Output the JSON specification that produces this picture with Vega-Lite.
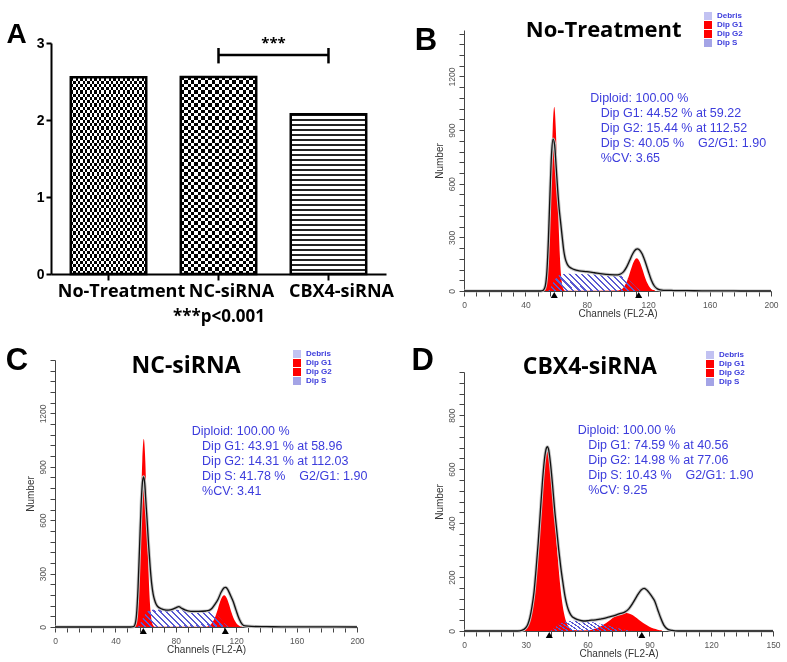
{
"$schema": "https://vega.github.io/schema/vega-lite/v6.json",
"background": "white",
"padding": {"left": 5, "top": 12, "right": 0, "bottom": 0},
"columns": 2,
"spacing": {"row": 69, "column": 78},
"bounds": "flush",
"align": "each",
"resolve": {"scale": {"color": "independent"}, "legend": {"color": "independent"}},
"datasets": {
"A": [{"group":"No-Treatment","value":2.555},{"group":"NC-siRNA","value":2.557},{"group":"CBX4-siRNA","value":2.074}],
"B": [
{"s":"Dip G1","ch":51.8,"n":2},{"s":"Dip G1","ch":52.8,"n":11},{"s":"Dip G1","ch":53.8,"n":45},{"s":"Dip G1","ch":54.8,"n":139},{"s":"Dip G1","ch":55.8,"n":334},{"s":"Dip G1","ch":56.8,"n":625},{"s":"Dip G1","ch":57.8,"n":909},{"s":"Dip G1","ch":58.8,"n":1030},{"s":"Dip G1","ch":59.8,"n":909},{"s":"Dip G1","ch":60.8,"n":625},{"s":"Dip G1","ch":61.8,"n":334},{"s":"Dip G1","ch":62.8,"n":139},{"s":"Dip G1","ch":63.8,"n":45},{"s":"Dip G1","ch":64.8,"n":11},{"s":"Dip G1","ch":65.8,"n":2},
{"s":"Dip G2","ch":100.5,"n":3},{"s":"Dip G2","ch":101.5,"n":5},{"s":"Dip G2","ch":102.5,"n":9},{"s":"Dip G2","ch":103.5,"n":16},{"s":"Dip G2","ch":104.5,"n":27},{"s":"Dip G2","ch":105.5,"n":43},{"s":"Dip G2","ch":106.5,"n":63},{"s":"Dip G2","ch":107.5,"n":87},{"s":"Dip G2","ch":108.5,"n":114},{"s":"Dip G2","ch":109.5,"n":140},{"s":"Dip G2","ch":110.5,"n":162},{"s":"Dip G2","ch":111.5,"n":178},{"s":"Dip G2","ch":112.5,"n":183},{"s":"Dip G2","ch":113.5,"n":178},{"s":"Dip G2","ch":114.5,"n":162},{"s":"Dip G2","ch":115.5,"n":140},{"s":"Dip G2","ch":116.5,"n":114},{"s":"Dip G2","ch":117.5,"n":87},{"s":"Dip G2","ch":118.5,"n":63},{"s":"Dip G2","ch":119.5,"n":43},{"s":"Dip G2","ch":120.5,"n":27},{"s":"Dip G2","ch":121.5,"n":16},{"s":"Dip G2","ch":122.5,"n":9},{"s":"Dip G2","ch":123.5,"n":5},{"s":"Dip G2","ch":124.5,"n":3},
{"s":"Dip S","ch":55,"n":0},{"s":"Dip S","ch":57,"n":30},{"s":"Dip S","ch":59,"n":60},{"s":"Dip S","ch":61,"n":82},{"s":"Dip S","ch":63,"n":92},{"s":"Dip S","ch":66,"n":96},{"s":"Dip S","ch":70,"n":96},{"s":"Dip S","ch":80,"n":94},{"s":"Dip S","ch":90,"n":92},{"s":"Dip S","ch":100,"n":90},{"s":"Dip S","ch":103,"n":86},{"s":"Dip S","ch":106,"n":72},{"s":"Dip S","ch":108,"n":58},{"s":"Dip S","ch":110,"n":40},{"s":"Dip S","ch":112,"n":22},{"s":"Dip S","ch":114,"n":8},{"s":"Dip S","ch":115,"n":0},
{"s":"raw","ch":0,"n":0},{"s":"raw","ch":40,"n":0},{"s":"raw","ch":50,"n":0},{"s":"raw","ch":51,"n":2},{"s":"raw","ch":52,"n":8},{"s":"raw","ch":53,"n":30},{"s":"raw","ch":54,"n":110},{"s":"raw","ch":55,"n":290},{"s":"raw","ch":56,"n":540},{"s":"raw","ch":57,"n":760},{"s":"raw","ch":58,"n":850},{"s":"raw","ch":59,"n":820},{"s":"raw","ch":60,"n":700},{"s":"raw","ch":61,"n":570},{"s":"raw","ch":62,"n":460},{"s":"raw","ch":63,"n":380},{"s":"raw","ch":64,"n":300},{"s":"raw","ch":65,"n":225},{"s":"raw","ch":66,"n":180},{"s":"raw","ch":67,"n":155},{"s":"raw","ch":68,"n":140},{"s":"raw","ch":70,"n":127},{"s":"raw","ch":72,"n":119},{"s":"raw","ch":75,"n":113},{"s":"raw","ch":80,"n":108},{"s":"raw","ch":85,"n":102},{"s":"raw","ch":90,"n":96},{"s":"raw","ch":95,"n":92},{"s":"raw","ch":100,"n":90},{"s":"raw","ch":102,"n":95},{"s":"raw","ch":104,"n":108},{"s":"raw","ch":106,"n":135},{"s":"raw","ch":108,"n":172},{"s":"raw","ch":110,"n":210},{"s":"raw","ch":112,"n":233},{"s":"raw","ch":113,"n":236},{"s":"raw","ch":114,"n":232},{"s":"raw","ch":116,"n":208},{"s":"raw","ch":118,"n":165},{"s":"raw","ch":120,"n":112},{"s":"raw","ch":122,"n":62},{"s":"raw","ch":124,"n":28},{"s":"raw","ch":126,"n":12},{"s":"raw","ch":128,"n":6},{"s":"raw","ch":130,"n":4},{"s":"raw","ch":135,"n":3},{"s":"raw","ch":140,"n":2},{"s":"raw","ch":150,"n":1.5},{"s":"raw","ch":160,"n":1},{"s":"raw","ch":170,"n":0.5},{"s":"raw","ch":180,"n":0},{"s":"raw","ch":200,"n":0},
{"s":"tri","ch":58.8,"n":0},{"s":"tri","ch":113.8,"n":0}
],
"C": [
{"s":"Dip G1","ch":51.8,"n":2},{"s":"Dip G1","ch":52.8,"n":12},{"s":"Dip G1","ch":53.8,"n":47},{"s":"Dip G1","ch":54.8,"n":143},{"s":"Dip G1","ch":55.8,"n":344},{"s":"Dip G1","ch":56.8,"n":642},{"s":"Dip G1","ch":57.8,"n":933},{"s":"Dip G1","ch":58.8,"n":1058},{"s":"Dip G1","ch":59.8,"n":933},{"s":"Dip G1","ch":60.8,"n":642},{"s":"Dip G1","ch":61.8,"n":344},{"s":"Dip G1","ch":62.8,"n":143},{"s":"Dip G1","ch":63.8,"n":47},{"s":"Dip G1","ch":64.8,"n":12},{"s":"Dip G1","ch":65.8,"n":2},
{"s":"Dip G2","ch":100,"n":2},{"s":"Dip G2","ch":101,"n":3},{"s":"Dip G2","ch":102,"n":7},{"s":"Dip G2","ch":103,"n":12},{"s":"Dip G2","ch":104,"n":22},{"s":"Dip G2","ch":105,"n":36},{"s":"Dip G2","ch":106,"n":55},{"s":"Dip G2","ch":107,"n":79},{"s":"Dip G2","ch":108,"n":106},{"s":"Dip G2","ch":109,"n":133},{"s":"Dip G2","ch":110,"n":157},{"s":"Dip G2","ch":111,"n":173},{"s":"Dip G2","ch":112,"n":179},{"s":"Dip G2","ch":113,"n":173},{"s":"Dip G2","ch":114,"n":157},{"s":"Dip G2","ch":115,"n":133},{"s":"Dip G2","ch":116,"n":106},{"s":"Dip G2","ch":117,"n":79},{"s":"Dip G2","ch":118,"n":55},{"s":"Dip G2","ch":119,"n":36},{"s":"Dip G2","ch":120,"n":22},{"s":"Dip G2","ch":121,"n":12},{"s":"Dip G2","ch":122,"n":7},{"s":"Dip G2","ch":123,"n":3},{"s":"Dip G2","ch":124,"n":2},
{"s":"Dip S","ch":55,"n":0},{"s":"Dip S","ch":57,"n":30},{"s":"Dip S","ch":59,"n":62},{"s":"Dip S","ch":61,"n":85},{"s":"Dip S","ch":63,"n":95},{"s":"Dip S","ch":66,"n":99},{"s":"Dip S","ch":70,"n":99},{"s":"Dip S","ch":80,"n":97},{"s":"Dip S","ch":90,"n":95},{"s":"Dip S","ch":100,"n":92},{"s":"Dip S","ch":103,"n":88},{"s":"Dip S","ch":106,"n":75},{"s":"Dip S","ch":108,"n":60},{"s":"Dip S","ch":110,"n":42},{"s":"Dip S","ch":112,"n":22},{"s":"Dip S","ch":114,"n":7},{"s":"Dip S","ch":115,"n":0},
{"s":"raw","ch":0,"n":0},{"s":"raw","ch":50,"n":0},{"s":"raw","ch":52,"n":2},{"s":"raw","ch":53,"n":15},{"s":"raw","ch":54,"n":70},{"s":"raw","ch":55,"n":220},{"s":"raw","ch":56,"n":450},{"s":"raw","ch":57,"n":680},{"s":"raw","ch":58,"n":820},{"s":"raw","ch":58.7,"n":843},{"s":"raw","ch":59.5,"n":800},{"s":"raw","ch":60,"n":730},{"s":"raw","ch":61,"n":600},{"s":"raw","ch":62,"n":460},{"s":"raw","ch":63,"n":340},{"s":"raw","ch":64,"n":245},{"s":"raw","ch":65,"n":185},{"s":"raw","ch":66,"n":150},{"s":"raw","ch":67,"n":128},{"s":"raw","ch":68,"n":115},{"s":"raw","ch":70,"n":104},{"s":"raw","ch":72,"n":98},{"s":"raw","ch":75,"n":95},{"s":"raw","ch":78,"n":100},{"s":"raw","ch":80,"n":108},{"s":"raw","ch":82,"n":114},{"s":"raw","ch":84,"n":105},{"s":"raw","ch":86,"n":96},{"s":"raw","ch":90,"n":88},{"s":"raw","ch":95,"n":88},{"s":"raw","ch":100,"n":90},{"s":"raw","ch":102,"n":93},{"s":"raw","ch":104,"n":105},{"s":"raw","ch":106,"n":128},{"s":"raw","ch":108,"n":156},{"s":"raw","ch":110,"n":195},{"s":"raw","ch":112,"n":220},{"s":"raw","ch":113,"n":223},{"s":"raw","ch":114,"n":216},{"s":"raw","ch":116,"n":182},{"s":"raw","ch":118,"n":143},{"s":"raw","ch":120,"n":92},{"s":"raw","ch":122,"n":45},{"s":"raw","ch":124,"n":15},{"s":"raw","ch":126,"n":6},{"s":"raw","ch":130,"n":3},{"s":"raw","ch":140,"n":2},{"s":"raw","ch":150,"n":1},{"s":"raw","ch":170,"n":0.5},{"s":"raw","ch":200,"n":0},
{"s":"tri","ch":58.5,"n":0},{"s":"tri","ch":112.8,"n":0}
],
"D": [
{"s":"Dip G1","ch":28.5,"n":4},{"s":"Dip G1","ch":29.5,"n":9},{"s":"Dip G1","ch":30.5,"n":19},{"s":"Dip G1","ch":31.5,"n":37},{"s":"Dip G1","ch":32.5,"n":68},{"s":"Dip G1","ch":33.5,"n":116},{"s":"Dip G1","ch":34.5,"n":184},{"s":"Dip G1","ch":35.5,"n":273},{"s":"Dip G1","ch":36.5,"n":376},{"s":"Dip G1","ch":37.5,"n":482},{"s":"Dip G1","ch":38.5,"n":576},{"s":"Dip G1","ch":39.5,"n":641},{"s":"Dip G1","ch":40.5,"n":664},{"s":"Dip G1","ch":41.5,"n":641},{"s":"Dip G1","ch":42.5,"n":576},{"s":"Dip G1","ch":43.5,"n":482},{"s":"Dip G1","ch":44.5,"n":376},{"s":"Dip G1","ch":45.5,"n":273},{"s":"Dip G1","ch":46.5,"n":184},{"s":"Dip G1","ch":47.5,"n":116},{"s":"Dip G1","ch":48.5,"n":68},{"s":"Dip G1","ch":49.5,"n":37},{"s":"Dip G1","ch":50.5,"n":19},{"s":"Dip G1","ch":51.5,"n":9},{"s":"Dip G1","ch":52.5,"n":4},
{"s":"Dip G2","ch":60,"n":2.5},{"s":"Dip G2","ch":62,"n":5},{"s":"Dip G2","ch":64,"n":9},{"s":"Dip G2","ch":66,"n":16},{"s":"Dip G2","ch":68,"n":25},{"s":"Dip G2","ch":70,"n":35},{"s":"Dip G2","ch":72,"n":47},{"s":"Dip G2","ch":74,"n":58},{"s":"Dip G2","ch":76,"n":65},{"s":"Dip G2","ch":78,"n":68},{"s":"Dip G2","ch":80,"n":65},{"s":"Dip G2","ch":82,"n":58},{"s":"Dip G2","ch":84,"n":47},{"s":"Dip G2","ch":86,"n":35},{"s":"Dip G2","ch":88,"n":25},{"s":"Dip G2","ch":90,"n":16},{"s":"Dip G2","ch":92,"n":9},{"s":"Dip G2","ch":94,"n":5},{"s":"Dip G2","ch":96,"n":2.5},
{"s":"Dip S","ch":42,"n":0},{"s":"Dip S","ch":44,"n":12},{"s":"Dip S","ch":46,"n":24},{"s":"Dip S","ch":48,"n":32},{"s":"Dip S","ch":50,"n":36},{"s":"Dip S","ch":54,"n":38},{"s":"Dip S","ch":58,"n":37},{"s":"Dip S","ch":62,"n":33},{"s":"Dip S","ch":66,"n":27},{"s":"Dip S","ch":70,"n":20},{"s":"Dip S","ch":74,"n":12},{"s":"Dip S","ch":78,"n":5},{"s":"Dip S","ch":82,"n":0},
{"s":"raw","ch":0,"n":0},{"s":"raw","ch":26,"n":0},{"s":"raw","ch":28,"n":2},{"s":"raw","ch":30,"n":12},{"s":"raw","ch":31,"n":25},{"s":"raw","ch":32,"n":50},{"s":"raw","ch":33,"n":90},{"s":"raw","ch":34,"n":145},{"s":"raw","ch":35,"n":230},{"s":"raw","ch":36,"n":325},{"s":"raw","ch":37,"n":435},{"s":"raw","ch":38,"n":545},{"s":"raw","ch":39,"n":632},{"s":"raw","ch":40,"n":678},{"s":"raw","ch":40.5,"n":683},{"s":"raw","ch":41,"n":675},{"s":"raw","ch":42,"n":620},{"s":"raw","ch":43,"n":540},{"s":"raw","ch":44,"n":450},{"s":"raw","ch":45,"n":375},{"s":"raw","ch":46,"n":300},{"s":"raw","ch":47,"n":235},{"s":"raw","ch":48,"n":180},{"s":"raw","ch":49,"n":130},{"s":"raw","ch":50,"n":95},{"s":"raw","ch":51,"n":72},{"s":"raw","ch":52,"n":58},{"s":"raw","ch":54,"n":46},{"s":"raw","ch":56,"n":40},{"s":"raw","ch":58,"n":37},{"s":"raw","ch":60,"n":38},{"s":"raw","ch":62,"n":40},{"s":"raw","ch":64,"n":41},{"s":"raw","ch":66,"n":44},{"s":"raw","ch":68,"n":47},{"s":"raw","ch":70,"n":51},{"s":"raw","ch":72,"n":55},{"s":"raw","ch":74,"n":60},{"s":"raw","ch":76,"n":65},{"s":"raw","ch":78,"n":70},{"s":"raw","ch":80,"n":82},{"s":"raw","ch":82,"n":104},{"s":"raw","ch":84,"n":130},{"s":"raw","ch":86,"n":152},{"s":"raw","ch":87.5,"n":158},{"s":"raw","ch":89,"n":150},{"s":"raw","ch":91,"n":130},{"s":"raw","ch":92.5,"n":112},{"s":"raw","ch":94,"n":80},{"s":"raw","ch":95.5,"n":48},{"s":"raw","ch":97,"n":22},{"s":"raw","ch":99,"n":6},{"s":"raw","ch":101,"n":2},{"s":"raw","ch":104,"n":0},{"s":"raw","ch":150,"n":0},
{"s":"tri","ch":41.4,"n":0},{"s":"tri","ch":86.3,"n":0}
]
},
"concat": [
{
"width": 335, "height": 244,
"data": {"name": "A"},
"layer": [
{"transform": [{"filter": "datum.group === 'No-Treatment'"}],
 "mark": {"type": "bar", "opacity": 1, "fill": {"gradient":"linear","x1":0,"y1":0,"x2":1,"y2":0,"stops":[
{"offset":0,"color":"#000"},{"offset":0.03125,"color":"#000"},{"offset":0.03125,"color":"#fff"},{"offset":0.0625,"color":"#fff"},
{"offset":0.0625,"color":"#000"},{"offset":0.09375,"color":"#000"},{"offset":0.09375,"color":"#fff"},{"offset":0.125,"color":"#fff"},
{"offset":0.125,"color":"#000"},{"offset":0.15625,"color":"#000"},{"offset":0.15625,"color":"#fff"},{"offset":0.1875,"color":"#fff"},
{"offset":0.1875,"color":"#000"},{"offset":0.21875,"color":"#000"},{"offset":0.21875,"color":"#fff"},{"offset":0.25,"color":"#fff"},
{"offset":0.25,"color":"#000"},{"offset":0.28125,"color":"#000"},{"offset":0.28125,"color":"#fff"},{"offset":0.3125,"color":"#fff"},
{"offset":0.3125,"color":"#000"},{"offset":0.34375,"color":"#000"},{"offset":0.34375,"color":"#fff"},{"offset":0.375,"color":"#fff"},
{"offset":0.375,"color":"#000"},{"offset":0.40625,"color":"#000"},{"offset":0.40625,"color":"#fff"},{"offset":0.4375,"color":"#fff"},
{"offset":0.4375,"color":"#000"},{"offset":0.46875,"color":"#000"},{"offset":0.46875,"color":"#fff"},{"offset":0.5,"color":"#fff"},
{"offset":0.5,"color":"#000"},{"offset":0.53125,"color":"#000"},{"offset":0.53125,"color":"#fff"},{"offset":0.5625,"color":"#fff"},
{"offset":0.5625,"color":"#000"},{"offset":0.59375,"color":"#000"},{"offset":0.59375,"color":"#fff"},{"offset":0.625,"color":"#fff"},
{"offset":0.625,"color":"#000"},{"offset":0.65625,"color":"#000"},{"offset":0.65625,"color":"#fff"},{"offset":0.6875,"color":"#fff"},
{"offset":0.6875,"color":"#000"},{"offset":0.71875,"color":"#000"},{"offset":0.71875,"color":"#fff"},{"offset":0.75,"color":"#fff"},
{"offset":0.75,"color":"#000"},{"offset":0.78125,"color":"#000"},{"offset":0.78125,"color":"#fff"},{"offset":0.8125,"color":"#fff"},
{"offset":0.8125,"color":"#000"},{"offset":0.84375,"color":"#000"},{"offset":0.84375,"color":"#fff"},{"offset":0.875,"color":"#fff"},
{"offset":0.875,"color":"#000"},{"offset":0.90625,"color":"#000"},{"offset":0.90625,"color":"#fff"},{"offset":0.9375,"color":"#fff"},
{"offset":0.9375,"color":"#000"},{"offset":0.96875,"color":"#000"},{"offset":0.96875,"color":"#fff"},{"offset":1,"color":"#fff"}]}},
 "encoding": {
  "x": {"field": "group", "type": "nominal", "sort": null,
        "scale": {"domain": ["No-Treatment","NC-siRNA","CBX4-siRNA"], "paddingInner": 0.314, "paddingOuter": 0.18},
        "axis": {"title": "***p<0.001", "titleFont": "Open Sans", "titleFontSize": 17, "titleFontWeight": "bold", "titleColor": "#000", "titlePadding": 8,
                 "labelFont": "Open Sans", "labelFontSize": 18, "labelFontWeight": "bold", "labelColor": "#000", "labelAngle": 0, "labelOffset": 13, "labelPadding": 2,
                 "domainColor": "#000", "domainWidth": 2, "tickColor": "#000", "tickWidth": 2, "tickSize": 6}},
  "y": {"field": "value", "type": "quantitative",
        "scale": {"domain": [0, 3], "range": [244, 13], "nice": false},
        "axis": {"values": [0,1,2,3], "format": "d", "tickCount": 10, "title": "A", "titleAngle": 0, "titleX": -45, "titleY": 12, "titleAlign": "left", "titleBaseline": "alphabetic",
                 "titleFont": "Liberation Sans", "titleFontSize": 28, "titleFontWeight": "bold", "titleColor": "#000",
                 "labelFont": "Liberation Sans", "labelFontSize": 14, "labelFontWeight": "bold", "labelColor": "#000", "labelAngle": 0, "labelAlign": "right", "labelBaseline": "middle", "labelPadding": 2,
                 "domainColor": "#000", "domainWidth": 2, "tickColor": "#000", "tickWidth": 2, "tickSize": 5}}
 }},
{"transform": [{"filter": "datum.group === 'NC-siRNA'"}],
 "mark": {"type": "bar", "opacity": 1, "fill": {"gradient":"linear","x1":0,"y1":0,"x2":1,"y2":0,"stops":[
{"offset":0,"color":"#000"},{"offset":0.0455,"color":"#000"},{"offset":0.0455,"color":"#fff"},{"offset":0.0909,"color":"#fff"},
{"offset":0.0909,"color":"#000"},{"offset":0.1364,"color":"#000"},{"offset":0.1364,"color":"#fff"},{"offset":0.1818,"color":"#fff"},
{"offset":0.1818,"color":"#000"},{"offset":0.2273,"color":"#000"},{"offset":0.2273,"color":"#fff"},{"offset":0.2727,"color":"#fff"},
{"offset":0.2727,"color":"#000"},{"offset":0.3182,"color":"#000"},{"offset":0.3182,"color":"#fff"},{"offset":0.3636,"color":"#fff"},
{"offset":0.3636,"color":"#000"},{"offset":0.4091,"color":"#000"},{"offset":0.4091,"color":"#fff"},{"offset":0.4545,"color":"#fff"},
{"offset":0.4545,"color":"#000"},{"offset":0.5,"color":"#000"},{"offset":0.5,"color":"#fff"},{"offset":0.5455,"color":"#fff"},
{"offset":0.5455,"color":"#000"},{"offset":0.5909,"color":"#000"},{"offset":0.5909,"color":"#fff"},{"offset":0.6364,"color":"#fff"},
{"offset":0.6364,"color":"#000"},{"offset":0.6818,"color":"#000"},{"offset":0.6818,"color":"#fff"},{"offset":0.7273,"color":"#fff"},
{"offset":0.7273,"color":"#000"},{"offset":0.7727,"color":"#000"},{"offset":0.7727,"color":"#fff"},{"offset":0.8182,"color":"#fff"},
{"offset":0.8182,"color":"#000"},{"offset":0.8636,"color":"#000"},{"offset":0.8636,"color":"#fff"},{"offset":0.9091,"color":"#fff"},
{"offset":0.9091,"color":"#000"},{"offset":0.9545,"color":"#000"},{"offset":0.9545,"color":"#fff"},{"offset":1,"color":"#fff"}]}},
 "encoding": {"x": {"field": "group", "type": "nominal"}, "y": {"field": "value", "type": "quantitative"}}},
{"transform": [{"filter": "datum.group !== 'CBX4-siRNA'"}],
 "mark": {"type": "bar", "opacity": 1, "blend": "difference", "fill": {"gradient":"linear","x1":0,"y1":0,"x2":0,"y2":1,"stops":[
{"offset":0,"color":"#000"},{"offset":0.0167,"color":"#000"},{"offset":0.0167,"color":"#fff"},{"offset":0.0333,"color":"#fff"},
{"offset":0.0333,"color":"#000"},{"offset":0.05,"color":"#000"},{"offset":0.05,"color":"#fff"},{"offset":0.0667,"color":"#fff"},
{"offset":0.0667,"color":"#000"},{"offset":0.0833,"color":"#000"},{"offset":0.0833,"color":"#fff"},{"offset":0.1,"color":"#fff"},
{"offset":0.1,"color":"#000"},{"offset":0.1167,"color":"#000"},{"offset":0.1167,"color":"#fff"},{"offset":0.1333,"color":"#fff"},
{"offset":0.1333,"color":"#000"},{"offset":0.15,"color":"#000"},{"offset":0.15,"color":"#fff"},{"offset":0.1667,"color":"#fff"},
{"offset":0.1667,"color":"#000"},{"offset":0.1833,"color":"#000"},{"offset":0.1833,"color":"#fff"},{"offset":0.2,"color":"#fff"},
{"offset":0.2,"color":"#000"},{"offset":0.2167,"color":"#000"},{"offset":0.2167,"color":"#fff"},{"offset":0.2333,"color":"#fff"},
{"offset":0.2333,"color":"#000"},{"offset":0.25,"color":"#000"},{"offset":0.25,"color":"#fff"},{"offset":0.2667,"color":"#fff"},
{"offset":0.2667,"color":"#000"},{"offset":0.2833,"color":"#000"},{"offset":0.2833,"color":"#fff"},{"offset":0.3,"color":"#fff"},
{"offset":0.3,"color":"#000"},{"offset":0.3167,"color":"#000"},{"offset":0.3167,"color":"#fff"},{"offset":0.3333,"color":"#fff"},
{"offset":0.3333,"color":"#000"},{"offset":0.35,"color":"#000"},{"offset":0.35,"color":"#fff"},{"offset":0.3667,"color":"#fff"},
{"offset":0.3667,"color":"#000"},{"offset":0.3833,"color":"#000"},{"offset":0.3833,"color":"#fff"},{"offset":0.4,"color":"#fff"},
{"offset":0.4,"color":"#000"},{"offset":0.4167,"color":"#000"},{"offset":0.4167,"color":"#fff"},{"offset":0.4333,"color":"#fff"},
{"offset":0.4333,"color":"#000"},{"offset":0.45,"color":"#000"},{"offset":0.45,"color":"#fff"},{"offset":0.4667,"color":"#fff"},
{"offset":0.4667,"color":"#000"},{"offset":0.4833,"color":"#000"},{"offset":0.4833,"color":"#fff"},{"offset":0.5,"color":"#fff"},
{"offset":0.5,"color":"#000"},{"offset":0.5167,"color":"#000"},{"offset":0.5167,"color":"#fff"},{"offset":0.5333,"color":"#fff"},
{"offset":0.5333,"color":"#000"},{"offset":0.55,"color":"#000"},{"offset":0.55,"color":"#fff"},{"offset":0.5667,"color":"#fff"},
{"offset":0.5667,"color":"#000"},{"offset":0.5833,"color":"#000"},{"offset":0.5833,"color":"#fff"},{"offset":0.6,"color":"#fff"},
{"offset":0.6,"color":"#000"},{"offset":0.6167,"color":"#000"},{"offset":0.6167,"color":"#fff"},{"offset":0.6333,"color":"#fff"},
{"offset":0.6333,"color":"#000"},{"offset":0.65,"color":"#000"},{"offset":0.65,"color":"#fff"},{"offset":0.6667,"color":"#fff"},
{"offset":0.6667,"color":"#000"},{"offset":0.6833,"color":"#000"},{"offset":0.6833,"color":"#fff"},{"offset":0.7,"color":"#fff"},
{"offset":0.7,"color":"#000"},{"offset":0.7167,"color":"#000"},{"offset":0.7167,"color":"#fff"},{"offset":0.7333,"color":"#fff"},
{"offset":0.7333,"color":"#000"},{"offset":0.75,"color":"#000"},{"offset":0.75,"color":"#fff"},{"offset":0.7667,"color":"#fff"},
{"offset":0.7667,"color":"#000"},{"offset":0.7833,"color":"#000"},{"offset":0.7833,"color":"#fff"},{"offset":0.8,"color":"#fff"},
{"offset":0.8,"color":"#000"},{"offset":0.8167,"color":"#000"},{"offset":0.8167,"color":"#fff"},{"offset":0.8333,"color":"#fff"},
{"offset":0.8333,"color":"#000"},{"offset":0.85,"color":"#000"},{"offset":0.85,"color":"#fff"},{"offset":0.8667,"color":"#fff"},
{"offset":0.8667,"color":"#000"},{"offset":0.8833,"color":"#000"},{"offset":0.8833,"color":"#fff"},{"offset":0.9,"color":"#fff"},
{"offset":0.9,"color":"#000"},{"offset":0.9167,"color":"#000"},{"offset":0.9167,"color":"#fff"},{"offset":0.9333,"color":"#fff"},
{"offset":0.9333,"color":"#000"},{"offset":0.95,"color":"#000"},{"offset":0.95,"color":"#fff"},{"offset":0.9667,"color":"#fff"},
{"offset":0.9667,"color":"#000"},{"offset":0.9833,"color":"#000"},{"offset":0.9833,"color":"#fff"},{"offset":1,"color":"#fff"}]}},
 "encoding": {"x": {"field": "group", "type": "nominal"}, "y": {"field": "value", "type": "quantitative"}}},
{"transform": [{"filter": "datum.group === 'CBX4-siRNA'"}],
 "mark": {"type": "bar", "opacity": 1, "fill": {"gradient":"linear","x1":0,"y1":0,"x2":0,"y2":1,"stops":[
{"offset":0,"color":"#222"},{"offset":0.011,"color":"#222"},{"offset":0.011,"color":"#fff"},{"offset":0.03125,"color":"#fff"},
{"offset":0.03125,"color":"#222"},{"offset":0.04225,"color":"#222"},{"offset":0.04225,"color":"#fff"},{"offset":0.0625,"color":"#fff"},
{"offset":0.0625,"color":"#222"},{"offset":0.0735,"color":"#222"},{"offset":0.0735,"color":"#fff"},{"offset":0.09375,"color":"#fff"},
{"offset":0.09375,"color":"#222"},{"offset":0.10475,"color":"#222"},{"offset":0.10475,"color":"#fff"},{"offset":0.125,"color":"#fff"},
{"offset":0.125,"color":"#222"},{"offset":0.136,"color":"#222"},{"offset":0.136,"color":"#fff"},{"offset":0.15625,"color":"#fff"},
{"offset":0.15625,"color":"#222"},{"offset":0.16725,"color":"#222"},{"offset":0.16725,"color":"#fff"},{"offset":0.1875,"color":"#fff"},
{"offset":0.1875,"color":"#222"},{"offset":0.1985,"color":"#222"},{"offset":0.1985,"color":"#fff"},{"offset":0.21875,"color":"#fff"},
{"offset":0.21875,"color":"#222"},{"offset":0.22975,"color":"#222"},{"offset":0.22975,"color":"#fff"},{"offset":0.25,"color":"#fff"},
{"offset":0.25,"color":"#222"},{"offset":0.261,"color":"#222"},{"offset":0.261,"color":"#fff"},{"offset":0.28125,"color":"#fff"},
{"offset":0.28125,"color":"#222"},{"offset":0.29225,"color":"#222"},{"offset":0.29225,"color":"#fff"},{"offset":0.3125,"color":"#fff"},
{"offset":0.3125,"color":"#222"},{"offset":0.3235,"color":"#222"},{"offset":0.3235,"color":"#fff"},{"offset":0.34375,"color":"#fff"},
{"offset":0.34375,"color":"#222"},{"offset":0.35475,"color":"#222"},{"offset":0.35475,"color":"#fff"},{"offset":0.375,"color":"#fff"},
{"offset":0.375,"color":"#222"},{"offset":0.386,"color":"#222"},{"offset":0.386,"color":"#fff"},{"offset":0.40625,"color":"#fff"},
{"offset":0.40625,"color":"#222"},{"offset":0.41725,"color":"#222"},{"offset":0.41725,"color":"#fff"},{"offset":0.4375,"color":"#fff"},
{"offset":0.4375,"color":"#222"},{"offset":0.4485,"color":"#222"},{"offset":0.4485,"color":"#fff"},{"offset":0.46875,"color":"#fff"},
{"offset":0.46875,"color":"#222"},{"offset":0.47975,"color":"#222"},{"offset":0.47975,"color":"#fff"},{"offset":0.5,"color":"#fff"},
{"offset":0.5,"color":"#222"},{"offset":0.511,"color":"#222"},{"offset":0.511,"color":"#fff"},{"offset":0.53125,"color":"#fff"},
{"offset":0.53125,"color":"#222"},{"offset":0.54225,"color":"#222"},{"offset":0.54225,"color":"#fff"},{"offset":0.5625,"color":"#fff"},
{"offset":0.5625,"color":"#222"},{"offset":0.5735,"color":"#222"},{"offset":0.5735,"color":"#fff"},{"offset":0.59375,"color":"#fff"},
{"offset":0.59375,"color":"#222"},{"offset":0.60475,"color":"#222"},{"offset":0.60475,"color":"#fff"},{"offset":0.625,"color":"#fff"},
{"offset":0.625,"color":"#222"},{"offset":0.636,"color":"#222"},{"offset":0.636,"color":"#fff"},{"offset":0.65625,"color":"#fff"},
{"offset":0.65625,"color":"#222"},{"offset":0.66725,"color":"#222"},{"offset":0.66725,"color":"#fff"},{"offset":0.6875,"color":"#fff"},
{"offset":0.6875,"color":"#222"},{"offset":0.6985,"color":"#222"},{"offset":0.6985,"color":"#fff"},{"offset":0.71875,"color":"#fff"},
{"offset":0.71875,"color":"#222"},{"offset":0.72975,"color":"#222"},{"offset":0.72975,"color":"#fff"},{"offset":0.75,"color":"#fff"},
{"offset":0.75,"color":"#222"},{"offset":0.761,"color":"#222"},{"offset":0.761,"color":"#fff"},{"offset":0.78125,"color":"#fff"},
{"offset":0.78125,"color":"#222"},{"offset":0.79225,"color":"#222"},{"offset":0.79225,"color":"#fff"},{"offset":0.8125,"color":"#fff"},
{"offset":0.8125,"color":"#222"},{"offset":0.8235,"color":"#222"},{"offset":0.8235,"color":"#fff"},{"offset":0.84375,"color":"#fff"},
{"offset":0.84375,"color":"#222"},{"offset":0.85475,"color":"#222"},{"offset":0.85475,"color":"#fff"},{"offset":0.875,"color":"#fff"},
{"offset":0.875,"color":"#222"},{"offset":0.886,"color":"#222"},{"offset":0.886,"color":"#fff"},{"offset":0.90625,"color":"#fff"},
{"offset":0.90625,"color":"#222"},{"offset":0.91725,"color":"#222"},{"offset":0.91725,"color":"#fff"},{"offset":0.9375,"color":"#fff"},
{"offset":0.9375,"color":"#222"},{"offset":0.9485,"color":"#222"},{"offset":0.9485,"color":"#fff"},{"offset":0.96875,"color":"#fff"},
{"offset":0.96875,"color":"#222"},{"offset":0.97975,"color":"#222"},{"offset":0.97975,"color":"#fff"},{"offset":1,"color":"#fff"}]}},
 "encoding": {"x": {"field": "group", "type": "nominal"}, "y": {"field": "value", "type": "quantitative"}}},
{"mark": {"type": "bar", "fill": "transparent", "stroke": "#000", "strokeWidth": 2.5, "opacity": 1},
 "encoding": {"x": {"field": "group", "type": "nominal"}, "y": {"field": "value", "type": "quantitative"}}},
{"data": {"values": [{}]},
 "mark": {"type": "rule", "color": "#000", "strokeWidth": 2.5},
 "encoding": {"x": {"datum": "NC-siRNA"}, "x2": {"datum": "CBX4-siRNA"}, "y": {"datum": 2.845}}},
{"data": {"values": [{"group": "NC-siRNA"}, {"group": "CBX4-siRNA"}]},
 "mark": {"type": "rule", "color": "#000", "strokeWidth": 2.5},
 "encoding": {"x": {"field": "group", "type": "nominal"}, "y": {"datum": 2.735}, "y2": {"datum": 2.935}}},
{"data": {"values": [{}]},
 "mark": {"type": "text", "font": "Open Sans", "fontSize": 15, "fontWeight": "bold", "dx": 55, "align": "center", "baseline": "alphabetic", "color": "#000"},
 "encoding": {"x": {"datum": "NC-siRNA"}, "y": {"datum": 2.94}, "text": {"value": "***"}}}
]
},
{
"width": 307, "height": 261,
"data": {"name": "B"},
"layer": [
{"transform": [{"filter": "datum.s === 'Dip G1' || datum.s === 'Dip G2'"}],
 "mark": {"type": "area", "interpolate": "monotone", "opacity": 1},
 "encoding": {
  "x": {"field": "ch", "type": "quantitative", "scale": {"domain": [0, 200], "nice": false},
        "axis": {"title": "Channels (FL2-A)", "tickCount": 100, "format": "d", "values": [0,8,16,24,32,40,48,56,64,72,80,88,96,104,112,120,128,136,144,152,160,168,176,184,192,200], "labelExpr": "datum.value % 40 === 0 ? datum.label : ''"}},
  "y": {"field": "n", "type": "quantitative", "scale": {"domain": [0, 1460], "nice": false},
        "axis": {"title": "Number", "tickCount": 100, "format": "d", "values": [0,60,120,180,240,300,360,420,480,540,600,660,720,780,840,900,960,1020,1080,1140,1200,1260,1320,1380,1440], "labelExpr": "datum.value % 300 === 0 ? datum.label : ''"}},
  "color": {"field": "s", "type": "nominal",
            "scale": {"domain": ["Debris","Dip G1","Dip G2","Dip S"], "range": ["#c2c2f2","#ff0000","#ff0000","#a4a4e6"]},
            "legend": {"orient": "none", "legendX": 240, "legendY": -18, "title": null, "symbolType": "square", "symbolSize": 64, "symbolStrokeWidth": 0, "labelFont": "Liberation Sans", "labelFontSize": 8, "labelFontWeight": "bold", "labelColor": "#3c3cdc", "rowPadding": 1, "padding": 0, "labelOffset": 5}}
 }},
{"transform": [{"filter": "datum.s === 'Dip S'"}],
 "mark": {"type": "area", "interpolate": "monotone", "opacity": 1, "fill": {"gradient":"linear","x1":0,"y1":1,"x2":1.15,"y2":0.79,"stops":[
{"offset":0,"color":"#5a5ad2"},{"offset":0.02,"color":"#5a5ad2"},{"offset":0.02,"color":"rgba(90,90,210,0)"},{"offset":0.0556,"color":"rgba(90,90,210,0)"},
{"offset":0.0556,"color":"#5a5ad2"},{"offset":0.0756,"color":"#5a5ad2"},{"offset":0.0756,"color":"rgba(90,90,210,0)"},{"offset":0.1111,"color":"rgba(90,90,210,0)"},
{"offset":0.1111,"color":"#5a5ad2"},{"offset":0.1311,"color":"#5a5ad2"},{"offset":0.1311,"color":"rgba(90,90,210,0)"},{"offset":0.1667,"color":"rgba(90,90,210,0)"},
{"offset":0.1667,"color":"#5a5ad2"},{"offset":0.1867,"color":"#5a5ad2"},{"offset":0.1867,"color":"rgba(90,90,210,0)"},{"offset":0.2222,"color":"rgba(90,90,210,0)"},
{"offset":0.2222,"color":"#5a5ad2"},{"offset":0.2422,"color":"#5a5ad2"},{"offset":0.2422,"color":"rgba(90,90,210,0)"},{"offset":0.2778,"color":"rgba(90,90,210,0)"},
{"offset":0.2778,"color":"#5a5ad2"},{"offset":0.2978,"color":"#5a5ad2"},{"offset":0.2978,"color":"rgba(90,90,210,0)"},{"offset":0.3333,"color":"rgba(90,90,210,0)"},
{"offset":0.3333,"color":"#5a5ad2"},{"offset":0.3533,"color":"#5a5ad2"},{"offset":0.3533,"color":"rgba(90,90,210,0)"},{"offset":0.3889,"color":"rgba(90,90,210,0)"},
{"offset":0.3889,"color":"#5a5ad2"},{"offset":0.4089,"color":"#5a5ad2"},{"offset":0.4089,"color":"rgba(90,90,210,0)"},{"offset":0.4444,"color":"rgba(90,90,210,0)"},
{"offset":0.4444,"color":"#5a5ad2"},{"offset":0.4644,"color":"#5a5ad2"},{"offset":0.4644,"color":"rgba(90,90,210,0)"},{"offset":0.5,"color":"rgba(90,90,210,0)"},
{"offset":0.5,"color":"#5a5ad2"},{"offset":0.52,"color":"#5a5ad2"},{"offset":0.52,"color":"rgba(90,90,210,0)"},{"offset":0.5556,"color":"rgba(90,90,210,0)"},
{"offset":0.5556,"color":"#5a5ad2"},{"offset":0.5756,"color":"#5a5ad2"},{"offset":0.5756,"color":"rgba(90,90,210,0)"},{"offset":0.6111,"color":"rgba(90,90,210,0)"},
{"offset":0.6111,"color":"#5a5ad2"},{"offset":0.6311,"color":"#5a5ad2"},{"offset":0.6311,"color":"rgba(90,90,210,0)"},{"offset":0.6667,"color":"rgba(90,90,210,0)"},
{"offset":0.6667,"color":"#5a5ad2"},{"offset":0.6867,"color":"#5a5ad2"},{"offset":0.6867,"color":"rgba(90,90,210,0)"},{"offset":0.7222,"color":"rgba(90,90,210,0)"},
{"offset":0.7222,"color":"#5a5ad2"},{"offset":0.7422,"color":"#5a5ad2"},{"offset":0.7422,"color":"rgba(90,90,210,0)"},{"offset":0.7778,"color":"rgba(90,90,210,0)"},
{"offset":0.7778,"color":"#5a5ad2"},{"offset":0.7978,"color":"#5a5ad2"},{"offset":0.7978,"color":"rgba(90,90,210,0)"},{"offset":0.8333,"color":"rgba(90,90,210,0)"},
{"offset":0.8333,"color":"#5a5ad2"},{"offset":0.8533,"color":"#5a5ad2"},{"offset":0.8533,"color":"rgba(90,90,210,0)"},{"offset":0.8889,"color":"rgba(90,90,210,0)"},
{"offset":0.8889,"color":"#5a5ad2"},{"offset":0.9089,"color":"#5a5ad2"},{"offset":0.9089,"color":"rgba(90,90,210,0)"},{"offset":0.9444,"color":"rgba(90,90,210,0)"},
{"offset":0.9444,"color":"#5a5ad2"},{"offset":0.9644,"color":"#5a5ad2"},{"offset":0.9644,"color":"rgba(90,90,210,0)"},{"offset":1,"color":"rgba(90,90,210,0)"}]}},
 "encoding": {"x": {"field": "ch", "type": "quantitative"}, "y": {"field": "n", "type": "quantitative"}}},
{"transform": [{"filter": "datum.s === 'raw'"}],
 "mark": {"type": "line", "interpolate": "monotone", "color": "#c4c4c4", "strokeWidth": 3.2},
 "encoding": {"x": {"field": "ch", "type": "quantitative"}, "y": {"field": "n", "type": "quantitative"}}},
{"transform": [{"filter": "datum.s === 'raw'"}],
 "mark": {"type": "line", "interpolate": "monotone", "color": "#111", "strokeWidth": 1.3},
 "encoding": {"x": {"field": "ch", "type": "quantitative"}, "y": {"field": "n", "type": "quantitative"}}},
{"transform": [{"filter": "datum.s === 'tri'"}],
 "mark": {"type": "point", "shape": "triangle-up", "filled": true, "color": "#000", "opacity": 1, "size": 50, "yOffset": 4},
 "encoding": {"x": {"field": "ch", "type": "quantitative"}, "y": {"field": "n", "type": "quantitative"}}},
{"data": {"values": [{}]},
 "mark": {"type": "text", "font": "Liberation Sans", "fontSize": 31, "fontWeight": "bold", "align": "center", "baseline": "alphabetic", "color": "#000"},
 "encoding": {"x": {"datum": -24.8}, "y": {"datum": 1348}, "text": {"value": "B"}}},
{"data": {"values": [{}]},
 "mark": {"type": "text", "font": "Open Sans", "fontSize": 22, "fontWeight": "bold", "align": "center", "baseline": "alphabetic", "color": "#000"},
 "encoding": {"x": {"datum": 91}, "y": {"datum": 1419}, "text": {"value": "No-Treatment"}}},
{"data": {"values": [{}]},
 "mark": {"type": "text", "font": "Liberation Sans", "fontSize": 12.5, "align": "left", "baseline": "alphabetic", "color": "#3c3cdc", "lineHeight": 15, "lineBreak": "\n"},
 "encoding": {"x": {"datum": 82.3}, "y": {"datum": 1059}, "text": {"value": "Diploid: 100.00 %\n\u200b\u00a0\u00a0\u00a0Dip G1: 44.52 % at 59.22\n\u200b\u00a0\u00a0\u00a0Dip G2: 15.44 % at 112.52\n\u200b\u00a0\u00a0\u00a0Dip S: 40.05 %\u00a0\u00a0\u00a0\u00a0G2/G1: 1.90\n\u200b\u00a0\u00a0\u00a0%CV: 3.65"}}}
]
},
{
"width": 306, "height": 267,
"data": {"name": "C"},
"layer": [
{"transform": [{"filter": "datum.s === 'Dip G1' || datum.s === 'Dip G2'"}],
 "mark": {"type": "area", "interpolate": "monotone", "opacity": 1},
 "encoding": {
  "x": {"field": "ch", "type": "quantitative", "scale": {"domain": [0, 200], "nice": false, "range": [4, 306]},
        "axis": {"title": "Channels (FL2-A)", "tickCount": 100, "format": "d", "values": [0,8,16,24,32,40,48,56,64,72,80,88,96,104,112,120,128,136,144,152,160,168,176,184,192,200], "labelExpr": "datum.value % 40 === 0 ? datum.label : ''"}},
  "y": {"field": "n", "type": "quantitative", "scale": {"domain": [0, 1500], "nice": false},
        "axis": {"title": "Number", "offset": -4, "tickCount": 100, "format": "d", "values": [0,60,120,180,240,300,360,420,480,540,600,660,720,780,840,900,960,1020,1080,1140,1200,1260,1320,1380,1440,1500], "labelExpr": "datum.value % 300 === 0 && datum.value < 1500 ? datum.label : ''"}},
  "color": {"field": "s", "type": "nominal",
            "scale": {"domain": ["Debris","Dip G1","Dip G2","Dip S"], "range": ["#c2c2f2","#ff0000","#ff0000","#a4a4e6"]},
            "legend": {"orient": "none", "legendX": 242, "legendY": -10, "title": null, "symbolType": "square", "symbolSize": 64, "symbolStrokeWidth": 0, "labelFont": "Liberation Sans", "labelFontSize": 8, "labelFontWeight": "bold", "labelColor": "#3c3cdc", "rowPadding": 1, "padding": 0, "labelOffset": 5}}
 }},
{"transform": [{"filter": "datum.s === 'Dip S'"}],
 "mark": {"type": "area", "interpolate": "monotone", "opacity": 1, "fill": {"gradient":"linear","x1":0,"y1":1,"x2":1.15,"y2":0.79,"stops":[
{"offset":0,"color":"#5a5ad2"},{"offset":0.02,"color":"#5a5ad2"},{"offset":0.02,"color":"rgba(90,90,210,0)"},{"offset":0.0556,"color":"rgba(90,90,210,0)"},
{"offset":0.0556,"color":"#5a5ad2"},{"offset":0.0756,"color":"#5a5ad2"},{"offset":0.0756,"color":"rgba(90,90,210,0)"},{"offset":0.1111,"color":"rgba(90,90,210,0)"},
{"offset":0.1111,"color":"#5a5ad2"},{"offset":0.1311,"color":"#5a5ad2"},{"offset":0.1311,"color":"rgba(90,90,210,0)"},{"offset":0.1667,"color":"rgba(90,90,210,0)"},
{"offset":0.1667,"color":"#5a5ad2"},{"offset":0.1867,"color":"#5a5ad2"},{"offset":0.1867,"color":"rgba(90,90,210,0)"},{"offset":0.2222,"color":"rgba(90,90,210,0)"},
{"offset":0.2222,"color":"#5a5ad2"},{"offset":0.2422,"color":"#5a5ad2"},{"offset":0.2422,"color":"rgba(90,90,210,0)"},{"offset":0.2778,"color":"rgba(90,90,210,0)"},
{"offset":0.2778,"color":"#5a5ad2"},{"offset":0.2978,"color":"#5a5ad2"},{"offset":0.2978,"color":"rgba(90,90,210,0)"},{"offset":0.3333,"color":"rgba(90,90,210,0)"},
{"offset":0.3333,"color":"#5a5ad2"},{"offset":0.3533,"color":"#5a5ad2"},{"offset":0.3533,"color":"rgba(90,90,210,0)"},{"offset":0.3889,"color":"rgba(90,90,210,0)"},
{"offset":0.3889,"color":"#5a5ad2"},{"offset":0.4089,"color":"#5a5ad2"},{"offset":0.4089,"color":"rgba(90,90,210,0)"},{"offset":0.4444,"color":"rgba(90,90,210,0)"},
{"offset":0.4444,"color":"#5a5ad2"},{"offset":0.4644,"color":"#5a5ad2"},{"offset":0.4644,"color":"rgba(90,90,210,0)"},{"offset":0.5,"color":"rgba(90,90,210,0)"},
{"offset":0.5,"color":"#5a5ad2"},{"offset":0.52,"color":"#5a5ad2"},{"offset":0.52,"color":"rgba(90,90,210,0)"},{"offset":0.5556,"color":"rgba(90,90,210,0)"},
{"offset":0.5556,"color":"#5a5ad2"},{"offset":0.5756,"color":"#5a5ad2"},{"offset":0.5756,"color":"rgba(90,90,210,0)"},{"offset":0.6111,"color":"rgba(90,90,210,0)"},
{"offset":0.6111,"color":"#5a5ad2"},{"offset":0.6311,"color":"#5a5ad2"},{"offset":0.6311,"color":"rgba(90,90,210,0)"},{"offset":0.6667,"color":"rgba(90,90,210,0)"},
{"offset":0.6667,"color":"#5a5ad2"},{"offset":0.6867,"color":"#5a5ad2"},{"offset":0.6867,"color":"rgba(90,90,210,0)"},{"offset":0.7222,"color":"rgba(90,90,210,0)"},
{"offset":0.7222,"color":"#5a5ad2"},{"offset":0.7422,"color":"#5a5ad2"},{"offset":0.7422,"color":"rgba(90,90,210,0)"},{"offset":0.7778,"color":"rgba(90,90,210,0)"},
{"offset":0.7778,"color":"#5a5ad2"},{"offset":0.7978,"color":"#5a5ad2"},{"offset":0.7978,"color":"rgba(90,90,210,0)"},{"offset":0.8333,"color":"rgba(90,90,210,0)"},
{"offset":0.8333,"color":"#5a5ad2"},{"offset":0.8533,"color":"#5a5ad2"},{"offset":0.8533,"color":"rgba(90,90,210,0)"},{"offset":0.8889,"color":"rgba(90,90,210,0)"},
{"offset":0.8889,"color":"#5a5ad2"},{"offset":0.9089,"color":"#5a5ad2"},{"offset":0.9089,"color":"rgba(90,90,210,0)"},{"offset":0.9444,"color":"rgba(90,90,210,0)"},
{"offset":0.9444,"color":"#5a5ad2"},{"offset":0.9644,"color":"#5a5ad2"},{"offset":0.9644,"color":"rgba(90,90,210,0)"},{"offset":1,"color":"rgba(90,90,210,0)"}]}},
 "encoding": {"x": {"field": "ch", "type": "quantitative"}, "y": {"field": "n", "type": "quantitative"}}},
{"transform": [{"filter": "datum.s === 'raw'"}],
 "mark": {"type": "line", "interpolate": "monotone", "color": "#c4c4c4", "strokeWidth": 3.2},
 "encoding": {"x": {"field": "ch", "type": "quantitative"}, "y": {"field": "n", "type": "quantitative"}}},
{"transform": [{"filter": "datum.s === 'raw'"}],
 "mark": {"type": "line", "interpolate": "monotone", "color": "#111", "strokeWidth": 1.3},
 "encoding": {"x": {"field": "ch", "type": "quantitative"}, "y": {"field": "n", "type": "quantitative"}}},
{"transform": [{"filter": "datum.s === 'tri'"}],
 "mark": {"type": "point", "shape": "triangle-up", "filled": true, "color": "#000", "opacity": 1, "size": 50, "yOffset": 4},
 "encoding": {"x": {"field": "ch", "type": "quantitative"}, "y": {"field": "n", "type": "quantitative"}}},
{"data": {"values": [{}]},
 "mark": {"type": "text", "font": "Liberation Sans", "fontSize": 31, "fontWeight": "bold", "align": "center", "baseline": "alphabetic", "color": "#000"},
 "encoding": {"x": {"datum": -25.2}, "y": {"datum": 1443}, "text": {"value": "C"}}},
{"data": {"values": [{}]},
 "mark": {"type": "text", "font": "Open Sans", "fontSize": 23, "fontWeight": "bold", "align": "center", "baseline": "alphabetic", "color": "#000"},
 "encoding": {"x": {"datum": 86.8}, "y": {"datum": 1425}, "text": {"value": "NC-siRNA"}}},
{"data": {"values": [{}]},
 "mark": {"type": "text", "font": "Liberation Sans", "fontSize": 12.5, "align": "left", "baseline": "alphabetic", "color": "#3c3cdc", "lineHeight": 15, "lineBreak": "\n"},
 "encoding": {"x": {"datum": 90.5}, "y": {"datum": 1080}, "text": {"value": "Diploid: 100.00 %\n\u200b\u00a0\u00a0\u00a0Dip G1: 43.91 % at 58.96\n\u200b\u00a0\u00a0\u00a0Dip G2: 14.31 % at 112.03\n\u200b\u00a0\u00a0\u00a0Dip S: 41.78 %\u00a0\u00a0\u00a0\u00a0G2/G1: 1.90\n\u200b\u00a0\u00a0\u00a0%CV: 3.41"}}}
]
},
{
"width": 309, "height": 271,
"data": {"name": "D"},
"layer": [
{"transform": [{"filter": "datum.s === 'Dip G1' || datum.s === 'Dip G2'"}],
 "mark": {"type": "area", "interpolate": "monotone", "opacity": 1},
 "encoding": {
  "x": {"field": "ch", "type": "quantitative", "scale": {"domain": [0, 150], "nice": false},
        "axis": {"title": "Channels (FL2-A)", "tickCount": 100, "format": "d", "values": [0,6,12,18,24,30,36,42,48,54,60,66,72,78,84,90,96,102,108,114,120,126,132,138,144,150], "labelExpr": "datum.value % 30 === 0 ? datum.label : ''"}},
  "y": {"field": "n", "type": "quantitative", "scale": {"domain": [0, 960], "nice": false, "range": [271, 12]},
        "axis": {"title": "Number", "tickCount": 100, "format": "d", "values": [0,40,80,120,160,200,240,280,320,360,400,440,480,520,560,600,640,680,720,760,800,840,880,920,960], "labelExpr": "datum.value % 200 === 0 ? datum.label : ''"}},
  "color": {"field": "s", "type": "nominal",
            "scale": {"domain": ["Debris","Dip G1","Dip G2","Dip S"], "range": ["#c2c2f2","#ff0000","#ff0000","#a4a4e6"]},
            "legend": {"orient": "none", "legendX": 242, "legendY": -9, "title": null, "symbolType": "square", "symbolSize": 64, "symbolStrokeWidth": 0, "labelFont": "Liberation Sans", "labelFontSize": 8, "labelFontWeight": "bold", "labelColor": "#3c3cdc", "rowPadding": 1, "padding": 0, "labelOffset": 5}}
 }},
{"transform": [{"filter": "datum.s === 'Dip S'"}],
 "mark": {"type": "area", "interpolate": "monotone", "opacity": 1, "fill": {"gradient":"linear","x1":0,"y1":1,"x2":1.15,"y2":0.79,"stops":[
{"offset":0,"color":"#5a5ad2"},{"offset":0.02,"color":"#5a5ad2"},{"offset":0.02,"color":"rgba(90,90,210,0)"},{"offset":0.0556,"color":"rgba(90,90,210,0)"},
{"offset":0.0556,"color":"#5a5ad2"},{"offset":0.0756,"color":"#5a5ad2"},{"offset":0.0756,"color":"rgba(90,90,210,0)"},{"offset":0.1111,"color":"rgba(90,90,210,0)"},
{"offset":0.1111,"color":"#5a5ad2"},{"offset":0.1311,"color":"#5a5ad2"},{"offset":0.1311,"color":"rgba(90,90,210,0)"},{"offset":0.1667,"color":"rgba(90,90,210,0)"},
{"offset":0.1667,"color":"#5a5ad2"},{"offset":0.1867,"color":"#5a5ad2"},{"offset":0.1867,"color":"rgba(90,90,210,0)"},{"offset":0.2222,"color":"rgba(90,90,210,0)"},
{"offset":0.2222,"color":"#5a5ad2"},{"offset":0.2422,"color":"#5a5ad2"},{"offset":0.2422,"color":"rgba(90,90,210,0)"},{"offset":0.2778,"color":"rgba(90,90,210,0)"},
{"offset":0.2778,"color":"#5a5ad2"},{"offset":0.2978,"color":"#5a5ad2"},{"offset":0.2978,"color":"rgba(90,90,210,0)"},{"offset":0.3333,"color":"rgba(90,90,210,0)"},
{"offset":0.3333,"color":"#5a5ad2"},{"offset":0.3533,"color":"#5a5ad2"},{"offset":0.3533,"color":"rgba(90,90,210,0)"},{"offset":0.3889,"color":"rgba(90,90,210,0)"},
{"offset":0.3889,"color":"#5a5ad2"},{"offset":0.4089,"color":"#5a5ad2"},{"offset":0.4089,"color":"rgba(90,90,210,0)"},{"offset":0.4444,"color":"rgba(90,90,210,0)"},
{"offset":0.4444,"color":"#5a5ad2"},{"offset":0.4644,"color":"#5a5ad2"},{"offset":0.4644,"color":"rgba(90,90,210,0)"},{"offset":0.5,"color":"rgba(90,90,210,0)"},
{"offset":0.5,"color":"#5a5ad2"},{"offset":0.52,"color":"#5a5ad2"},{"offset":0.52,"color":"rgba(90,90,210,0)"},{"offset":0.5556,"color":"rgba(90,90,210,0)"},
{"offset":0.5556,"color":"#5a5ad2"},{"offset":0.5756,"color":"#5a5ad2"},{"offset":0.5756,"color":"rgba(90,90,210,0)"},{"offset":0.6111,"color":"rgba(90,90,210,0)"},
{"offset":0.6111,"color":"#5a5ad2"},{"offset":0.6311,"color":"#5a5ad2"},{"offset":0.6311,"color":"rgba(90,90,210,0)"},{"offset":0.6667,"color":"rgba(90,90,210,0)"},
{"offset":0.6667,"color":"#5a5ad2"},{"offset":0.6867,"color":"#5a5ad2"},{"offset":0.6867,"color":"rgba(90,90,210,0)"},{"offset":0.7222,"color":"rgba(90,90,210,0)"},
{"offset":0.7222,"color":"#5a5ad2"},{"offset":0.7422,"color":"#5a5ad2"},{"offset":0.7422,"color":"rgba(90,90,210,0)"},{"offset":0.7778,"color":"rgba(90,90,210,0)"},
{"offset":0.7778,"color":"#5a5ad2"},{"offset":0.7978,"color":"#5a5ad2"},{"offset":0.7978,"color":"rgba(90,90,210,0)"},{"offset":0.8333,"color":"rgba(90,90,210,0)"},
{"offset":0.8333,"color":"#5a5ad2"},{"offset":0.8533,"color":"#5a5ad2"},{"offset":0.8533,"color":"rgba(90,90,210,0)"},{"offset":0.8889,"color":"rgba(90,90,210,0)"},
{"offset":0.8889,"color":"#5a5ad2"},{"offset":0.9089,"color":"#5a5ad2"},{"offset":0.9089,"color":"rgba(90,90,210,0)"},{"offset":0.9444,"color":"rgba(90,90,210,0)"},
{"offset":0.9444,"color":"#5a5ad2"},{"offset":0.9644,"color":"#5a5ad2"},{"offset":0.9644,"color":"rgba(90,90,210,0)"},{"offset":1,"color":"rgba(90,90,210,0)"}]}},
 "encoding": {"x": {"field": "ch", "type": "quantitative"}, "y": {"field": "n", "type": "quantitative"}}},
{"transform": [{"filter": "datum.s === 'raw'"}],
 "mark": {"type": "line", "interpolate": "monotone", "color": "#c4c4c4", "strokeWidth": 3.2},
 "encoding": {"x": {"field": "ch", "type": "quantitative"}, "y": {"field": "n", "type": "quantitative"}}},
{"transform": [{"filter": "datum.s === 'raw'"}],
 "mark": {"type": "line", "interpolate": "monotone", "color": "#111", "strokeWidth": 1.3},
 "encoding": {"x": {"field": "ch", "type": "quantitative"}, "y": {"field": "n", "type": "quantitative"}}},
{"transform": [{"filter": "datum.s === 'tri'"}],
 "mark": {"type": "point", "shape": "triangle-up", "filled": true, "color": "#000", "opacity": 1, "size": 50, "yOffset": 4},
 "encoding": {"x": {"field": "ch", "type": "quantitative"}, "y": {"field": "n", "type": "quantitative"}}},
{"data": {"values": [{}]},
 "mark": {"type": "text", "font": "Liberation Sans", "fontSize": 31, "fontWeight": "bold", "align": "center", "baseline": "alphabetic", "color": "#000"},
 "encoding": {"x": {"datum": -20}, "y": {"datum": 967}, "text": {"value": "D"}}},
{"data": {"values": [{}]},
 "mark": {"type": "text", "font": "Open Sans", "fontSize": 23, "fontWeight": "bold", "align": "center", "baseline": "alphabetic", "color": "#000"},
 "encoding": {"x": {"datum": 61.1}, "y": {"datum": 954}, "text": {"value": "CBX4-siRNA"}}},
{"data": {"values": [{}]},
 "mark": {"type": "text", "font": "Liberation Sans", "fontSize": 12.5, "align": "left", "baseline": "alphabetic", "color": "#3c3cdc", "lineHeight": 15, "lineBreak": "\n"},
 "encoding": {"x": {"datum": 55.2}, "y": {"datum": 730}, "text": {"value": "Diploid: 100.00 %\n\u200b\u00a0\u00a0\u00a0Dip G1: 74.59 % at 40.56\n\u200b\u00a0\u00a0\u00a0Dip G2: 14.98 % at 77.06\n\u200b\u00a0\u00a0\u00a0Dip S: 10.43 %\u00a0\u00a0\u00a0\u00a0G2/G1: 1.90\n\u200b\u00a0\u00a0\u00a0%CV: 9.25"}}}
]
}
],
"config": {
"view": {"stroke": null},
"font": "Liberation Sans",
"axis": {"grid": false, "tickSize": 5, "tickColor": "#444", "domainColor": "#444", "labelFont": "Liberation Sans", "labelFontSize": 8.5, "labelColor": "#555", "labelFlush": false, "labelOverlap": false, "titleFont": "Liberation Sans", "titleFontSize": 10, "titleFontWeight": "normal", "titleColor": "#333"},
"axisX": {"labelPadding": 4, "titlePadding": 0},
"axisY": {"labelAngle": 270, "labelAlign": "center", "labelBaseline": "bottom", "labelPadding": 3, "titlePadding": 3}
}
}
